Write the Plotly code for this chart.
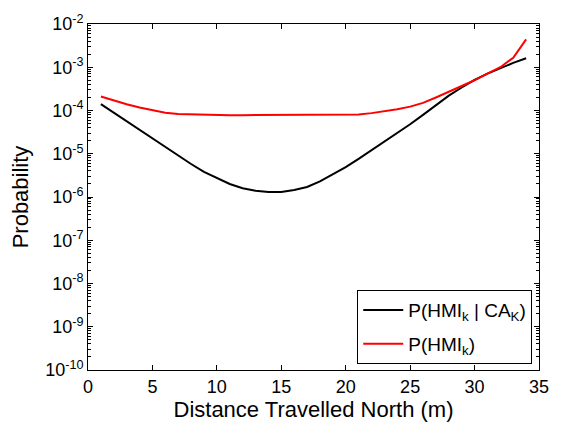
import plotly.graph_objects as go

distance = list(range(1, 35))
p_hmi_ca = [1.41e-4, 8.9e-5, 5.6e-5, 3.5e-5, 2.3e-5, 1.4e-5, 8.9e-6, 5.8e-6, 3.8e-6, 2.7e-6,
            2.0e-6, 1.6e-6, 1.4e-6, 1.3e-6, 1.3e-6, 1.45e-6, 1.7e-6, 2.3e-6, 3.3e-6, 4.9e-6,
            7.6e-6, 1.2e-5, 1.9e-5, 3.0e-5, 4.8e-5, 7.9e-5, 1.35e-4, 2.2e-4, 3.4e-4, 5.1e-4,
            7.1e-4, 9.5e-4, 1.26e-3, 1.62e-3]
p_hmi = [2.1e-4, 1.7e-4, 1.4e-4, 1.17e-4, 1.0e-4, 8.9e-5, 8.3e-5, 8.1e-5, 7.9e-5, 7.8e-5,
         7.8e-5, 7.8e-5, 7.8e-5, 7.8e-5, 7.8e-5, 7.8e-5, 7.8e-5, 7.8e-5, 7.8e-5, 7.9e-5,
         8.1e-5, 8.7e-5, 9.5e-5, 1.07e-4, 1.23e-4, 1.5e-4, 2.0e-4, 2.7e-4, 3.7e-4, 5.0e-4,
         7.1e-4, 1.0e-3, 1.66e-3, 4.4e-3]

x_ticks = [0, 5, 10, 15, 20, 25, 30, 35]
y_exponents = list(range(-10, -1))
y_tickvals = [10.0 ** e for e in y_exponents]
y_ticktext = ["10<sup>%d</sup>" % e for e in y_exponents]
y_minor = [k * 10.0 ** e for e in y_exponents[:-1] for k in range(2, 10)]

FONT = "Liberation Sans, Arial, sans-serif"

fig = go.Figure()
fig.add_trace(go.Scatter(x=distance, y=p_hmi_ca, mode="lines",
                         line=dict(color="black", width=2), legendgroup="a",
                         name="P(HMI<sub>k</sub> | CA<sub>K</sub>)"))
fig.add_trace(go.Scatter(x=distance, y=p_hmi, mode="lines",
                         line=dict(color="#ff0000", width=2), legendgroup="b",
                         name="P(HMI<sub>k</sub>)"))

fig.update_layout(
    width=561, height=428,
    margin=dict(l=88, r=21, t=18, b=55),
    paper_bgcolor="white", plot_bgcolor="white",
    font=dict(family=FONT, size=18, color="black"),
    showlegend=True,
    legend=dict(x=0.985, y=0.017, xanchor="right", yanchor="bottom",
                bgcolor="white", bordercolor="black", borderwidth=1,
                font=dict(size=19), tracegroupgap=6, itemwidth=40),
)
fig.update_xaxes(
    range=[0, 35], tickmode="array", tickvals=x_ticks, ticks="inside", ticklen=5,
    tickwidth=1, tickcolor="black",
    showline=True, linecolor="black", linewidth=1, mirror="allticks",
    showgrid=False, zeroline=False,
    title=dict(text="Distance Travelled North (m)", standoff=4),
    tickfont=dict(size=18),
)
fig.update_yaxes(
    type="log", range=[-10, -2], tickmode="array", tickvals=y_tickvals,
    ticktext=y_ticktext,
    ticks="inside", ticklen=5, tickwidth=1, tickcolor="black",
    minor=dict(tickmode="array", tickvals=y_minor, ticks="inside", ticklen=3,
               tickwidth=1, tickcolor="black", showgrid=False),
    showline=True, linecolor="black", linewidth=1, mirror="allticks",
    showgrid=False, zeroline=False,
    title=dict(text="Probability", standoff=10),
    tickfont=dict(size=18),
)

fig.write_html("out.html")
